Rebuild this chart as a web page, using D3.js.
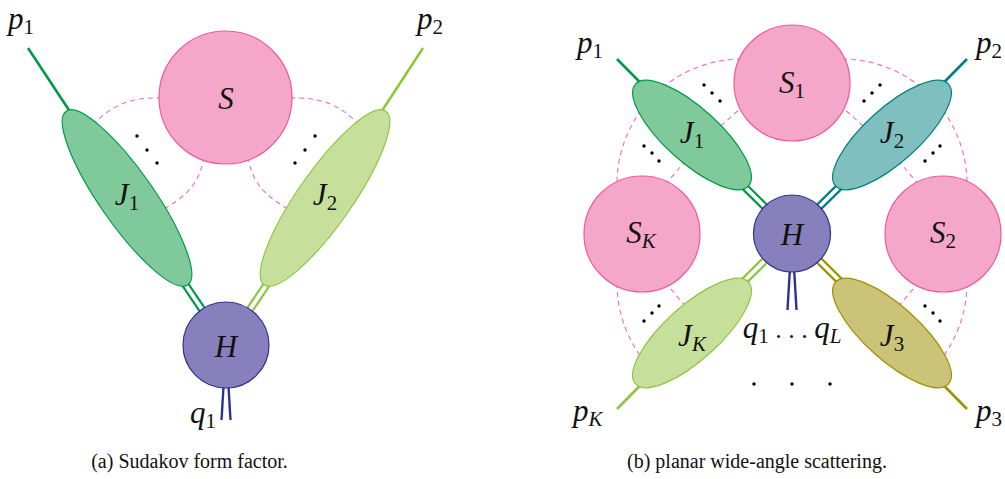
<!DOCTYPE html>
<html>
<head>
<meta charset="utf-8">
<script src="https://cdn.jsdelivr.net/npm/d3@7"></script>
<style>
  html, body { margin: 0; padding: 0; background: #ffffff; }
  svg { display: block; }
  .lbl { font-family: "Liberation Serif", "DejaVu Serif", serif; }
  .cap { font-family: "Liberation Serif", "DejaVu Serif", serif; }
</style>
</head>
<body>
<svg id="fig" width="1005" height="479"></svg>
<script>
// ---------- palette ----------
const palette = {
  green: { stroke: "#009a49", fill: "#80c99b" },
  lime:  { stroke: "#8dc63f", fill: "#c6e09c" },
  teal:  { stroke: "#00807f", fill: "#80bfbf" },
  olive: { stroke: "#9d9100", fill: "#cbc378" },
  soft:  { stroke: "#ed5a9d", fill: "#f5a7ca" },
  hard:  { stroke: "#2e3192", fill: "#8780bd" },
  dash:  "#f06eaa"
};

// ---------- (a) Sudakov form factor ----------
const hardA = [{ cx: 226, cy: 345, r: 43 }];
const softA = [{ cx: 225.5, cy: 97.5, r: 66.5 }];
const jetsA = [
  { cx: 127, cy: 198, a: 106, b: 27, angle: 55, color: "green", leg: [28, 48] },
  { cx: 325, cy: 198, a: 106, b: 27, angle: -55, color: "lime", leg: [423, 48] }
];
const photonsA = [{ from: [226, 345], ends: [[221.5, 420], [230.5, 420]] }];
// soft gluon lines joining S to the jets (cubic segments)
const exchangesA = [
  { p0: [162, 98], c1: [130, 97], c2: [110, 105], p1: [88, 130] },
  { p0: [204, 157], c1: [200, 180], c2: [190, 196], p1: [158, 212] },
  { p0: [290, 98], c1: [322, 97], c2: [342, 105], p1: [364, 130] },
  { p0: [248, 157], c1: [252, 180], c2: [262, 196], p1: [294, 212] }
];
const dotsA = [[137, 136], [147, 150], [157, 163], [315, 136], [305, 150], [295, 163]];
const labelsA = [
  { x: 226, y: 109, parts: [["S", "i"]] },
  { x: 127, y: 205, parts: [["J", "i"], ["1", "sub"]] },
  { x: 325, y: 205, parts: [["J", "i"], ["2", "sub"]] },
  { x: 226, y: 357, parts: [["H", "i"]] },
  { x: 8, y: 29, anchor: "start", parts: [["p", "i"], ["1", "sub"]] },
  { x: 417, y: 29, anchor: "start", parts: [["p", "i"], ["2", "sub"]] },
  { x: 190, y: 423, anchor: "start", parts: [["q", "i"], ["1", "sub"]] }
];

// ---------- (b) planar wide-angle scattering ----------
const hardB = [{ cx: 792, cy: 233.5, r: 38.5 }];
const softB = [
  { cx: 792, cy: 83, r: 58 },
  { cx: 943, cy: 234, r: 58 },
  { cx: 642, cy: 234, r: 58 }
];
const jetsB = [
  { cx: 692, cy: 135, a: 76, b: 27, angle: 42, color: "green", leg: [617, 59] },
  { cx: 892, cy: 135, a: 76, b: 27, angle: -42, color: "teal", leg: [967, 59] },
  { cx: 892, cy: 333, a: 76, b: 27, angle: 42, color: "olive", leg: [967, 409] },
  { cx: 692, cy: 333, a: 76, b: 27, angle: -42, color: "lime", leg: [617, 409] }
];
const photonsB = [{ from: [792, 233.5], ends: [[787.5, 310], [796.5, 310]] }];
// outer soft lines: circular arcs (centre, radius, start/end angle in degrees)
const arcsB = [
  { cx: 742, cy: 184, r: 125, a0: -90, a1: -180, ccw: true },
  { cx: 842, cy: 184, r: 125, a0: -90, a1: 0, ccw: false },
  { cx: 742, cy: 283, r: 125, a0: 180, a1: 135, ccw: true },
  { cx: 842, cy: 283, r: 125, a0: 0, a1: 45, ccw: false }
];
// inner soft lines: quadratic segments
const quadsB = [
  { p0: [745, 105], c: [701, 141], p1: [665, 185] },
  { p0: [839, 105], c: [883, 141], p1: [919, 185] },
  { p0: [665, 282], c: [683, 304], p1: [703, 324] },
  { p0: [919, 282], c: [901, 304], p1: [881, 324] }
];
const dotsB = [
  [704, 85], [712, 93], [720, 101],
  [880, 85], [872, 93], [864, 101],
  [644, 146], [652, 153], [659, 161],
  [940, 146], [933, 153], [925, 161],
  [644, 321], [652, 313], [659, 306],
  [940, 321], [933, 313], [925, 306],
  [754, 384], [792, 384], [830, 384]
];
const labelsB = [
  { x: 792, y: 93, parts: [["S", "i"], ["1", "sub"]] },
  { x: 943, y: 243, parts: [["S", "i"], ["2", "sub"]] },
  { x: 641, y: 243, parts: [["S", "i"], ["K", "isub"]] },
  { x: 792, y: 245, parts: [["H", "i"]] },
  { x: 692, y: 143, parts: [["J", "i"], ["1", "sub"]] },
  { x: 892, y: 143, parts: [["J", "i"], ["2", "sub"]] },
  { x: 892, y: 346, parts: [["J", "i"], ["3", "sub"]] },
  { x: 692, y: 346, parts: [["J", "i"], ["K", "isub"]] },
  { x: 577, y: 53, anchor: "start", parts: [["p", "i"], ["1", "sub"]] },
  { x: 976, y: 53, anchor: "start", parts: [["p", "i"], ["2", "sub"]] },
  { x: 573, y: 421, anchor: "start", parts: [["p", "i"], ["K", "isub"]] },
  { x: 976, y: 421, anchor: "start", parts: [["p", "i"], ["3", "sub"]] },
  { x: 792, y: 338, parts: [["q", "i"], ["1", "sub"], [" . . . ", "dots"], ["q", "i"], ["L", "isub"]] }
];

const captions = [
  { x: 189.5, y: 468, text: "(a) Sudakov form factor." },
  { x: 757, y: 468, text: "(b) planar wide-angle scattering." }
];

// ---------- drawing ----------
const svg = d3.select("#fig");
const MAIN_SIZE = 31, SUB_SIZE = 21, DOT_SIZE = 26, SUB_SHIFT = 5;
const rad = d => d * Math.PI / 180;

function drawDiagram(g, spec) {
  const dashed = g.append("g").attr("fill", "none")
    .attr("stroke", palette.dash).attr("stroke-width", 1.1)
    .attr("stroke-dasharray", "5,4");

  (spec.cubics || []).forEach(d => {
    const p = d3.path();
    p.moveTo(...d.p0);
    p.bezierCurveTo(...d.c1, ...d.c2, ...d.p1);
    dashed.append("path").attr("d", p.toString());
  });
  (spec.arcs || []).forEach(d => {
    const p = d3.path();
    p.arc(d.cx, d.cy, d.r, rad(d.a0), rad(d.a1), d.ccw);
    dashed.append("path").attr("d", p.toString());
  });
  (spec.quads || []).forEach(d => {
    const p = d3.path();
    p.moveTo(...d.p0);
    p.quadraticCurveTo(...d.c, ...d.p1);
    dashed.append("path").attr("d", p.toString());
  });

  const hard = spec.hard[0];

  // external legs
  g.append("g").selectAll("line").data(spec.jets).join("line")
    .attr("x1", d => d.leg[0]).attr("y1", d => d.leg[1])
    .attr("x2", d => d.cx).attr("y2", d => d.cy)
    .attr("stroke", d => palette[d.color].stroke)
    .attr("stroke-width", 2.6);

  // double lines from each jet into the hard vertex
  const dbl = g.append("g");
  spec.jets.forEach(d => {
    const dx = hard.cx - d.cx, dy = hard.cy - d.cy;
    const len = Math.hypot(dx, dy);
    const nx = -dy / len, ny = dx / len;
    [-3, 3].forEach(o => {
      dbl.append("line")
        .attr("x1", d.cx + nx * o).attr("y1", d.cy + ny * o)
        .attr("x2", hard.cx + nx * o).attr("y2", hard.cy + ny * o)
        .attr("stroke", palette[d.color].stroke)
        .attr("stroke-width", 2.2);
    });
  });

  // colour-singlet lines leaving the hard vertex
  spec.photons.forEach(d => {
    d.ends.forEach(e => {
      g.append("line")
        .attr("x1", d.from[0]).attr("y1", d.from[1])
        .attr("x2", e[0]).attr("y2", e[1])
        .attr("stroke", palette.hard.stroke)
        .attr("stroke-width", 2.4);
    });
  });

  // jet functions
  g.append("g").selectAll("ellipse").data(spec.jets).join("ellipse")
    .attr("cx", 0).attr("cy", 0)
    .attr("rx", d => d.a).attr("ry", d => d.b)
    .attr("transform", d => `translate(${d.cx},${d.cy}) rotate(${d.angle})`)
    .attr("fill", d => palette[d.color].fill)
    .attr("stroke", d => palette[d.color].stroke)
    .attr("stroke-width", 1.2);

  // soft functions
  g.append("g").selectAll("circle").data(spec.soft).join("circle")
    .attr("cx", d => d.cx).attr("cy", d => d.cy).attr("r", d => d.r)
    .attr("fill", palette.soft.fill)
    .attr("stroke", palette.soft.stroke)
    .attr("stroke-width", 1.2);

  // hard function
  g.append("g").selectAll("circle").data(spec.hard).join("circle")
    .attr("cx", d => d.cx).attr("cy", d => d.cy).attr("r", d => d.r)
    .attr("fill", palette.hard.fill)
    .attr("stroke", palette.hard.stroke)
    .attr("stroke-width", 1.2);

  // ellipsis dots
  g.append("g").selectAll("circle").data(spec.dots).join("circle")
    .attr("cx", d => d[0]).attr("cy", d => d[1]).attr("r", 1.7)
    .attr("fill", "#000");

  // labels: italic symbol with an optional subscript
  spec.labels.forEach(d => {
    const t = g.append("text")
      .attr("class", "lbl")
      .attr("x", d.x).attr("y", d.y)
      .attr("text-anchor", d.anchor || "middle")
      .attr("font-size", MAIN_SIZE)
      .attr("fill", "#111")
      .style("white-space", "pre");
    let shifted = false;
    d.parts.forEach(([str, kind]) => {
      const s = t.append("tspan").text(str);
      const isSub = kind === "sub" || kind === "isub";
      s.attr("font-style", (kind === "i" || kind === "isub") ? "italic" : "normal");
      if (kind === "dots") s.attr("font-size", DOT_SIZE);
      if (isSub) {
        s.attr("font-size", SUB_SIZE);
        if (!shifted) { s.attr("dy", SUB_SHIFT); shifted = true; }
      } else if (shifted) {
        s.attr("dy", -SUB_SHIFT); shifted = false;
      }
    });
  });
}

drawDiagram(svg.append("g"), {
  hard: hardA, soft: softA, jets: jetsA, photons: photonsA,
  cubics: exchangesA, dots: dotsA, labels: labelsA
});
drawDiagram(svg.append("g"), {
  hard: hardB, soft: softB, jets: jetsB, photons: photonsB,
  arcs: arcsB, quads: quadsB, dots: dotsB, labels: labelsB
});

svg.append("g").selectAll("text").data(captions).join("text")
  .attr("class", "cap")
  .attr("x", d => d.x).attr("y", d => d.y)
  .attr("text-anchor", "middle")
  .attr("font-size", 20)
  .attr("fill", "#111")
  .text(d => d.text);
</script>
</body>
</html>
